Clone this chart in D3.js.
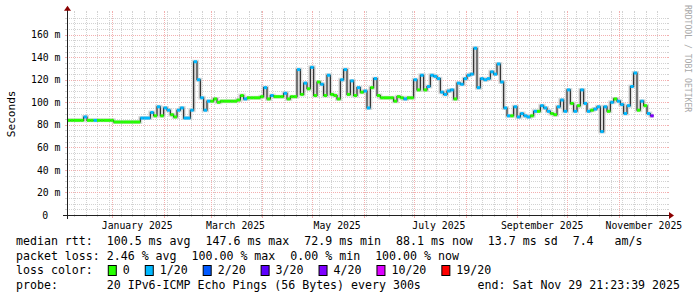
<!DOCTYPE html>
<html><head><meta charset="utf-8">
<script src="https://cdn.jsdelivr.net/npm/d3@7"></script>
<style>
html,body{margin:0;padding:0;background:#fff;}
svg{display:block;}
text{font-family:"DejaVu Sans Mono",monospace;white-space:pre;}
</style></head><body>
<svg id="chart" width="697" height="297"></svg>
<script>
// ---------- data ----------
const endTime = Date.UTC(2025, 10, 29, 21, 23, 39);
const spanDays = 360;
const stepDays = 2;
// median rtt (ms) per 2-day step, starting at endTime - 360 days
const medianMs = [
 84,84,84,84,84,87,84,84,84,84,84,84,84,84,
 82.5,82.5,82.5,82.5,82.5,82.5,82.5,82.5,
 86,86,86,91,88,96,88,95,93,89,87,93,95,86,86,93,136,120,104,93,101,101,
 103,100,101,101,101,101,101,102,106,103,104,104,104,104,105,113,103,106,105,105,105,108,103,105,105,129,
 107,117,112,131,106,118,116,106,124,107,106,103,120,129,107,119,106,113,109,
 110,95,113,121,106,104,104,104,104,101,105,104,103,104,104,
 120,111,124,111,114,124,123,121,109,107,110,111,103,117,116,121,124,125,148,113,121,120,121,127,125,134,118,95,88,88,
 96,87,90,88,87,88,92,92,97,95,92,90,89,96,102,92,111,99,92,97,111,99,92,93,94,96,74,96,92,100,103,101,98,90,97,114,126,93,101,97,90,88
];
// lost pings (out of 20) per step
const lossCount = [
 0,0,0,0,0,1,0,0,1,0,0,0,0,0,
 0,0,0,0,0,0,0,0,
 1,1,1,1,0,1,0,1,1,0,0,1,1,1,1,1,1,1,1,1,1,0,
 0,0,0,0,0,0,0,0,0,1,0,0,0,0,0,1,0,1,0,0,0,1,0,0,0,1,
 0,1,0,1,0,0,1,0,1,0,0,0,1,1,0,1,0,1,0,
 1,1,0,1,0,0,0,0,0,0,0,0,1,0,0,
 1,0,1,0,1,1,1,1,1,1,1,1,0,1,1,1,1,1,1,1,1,1,1,1,1,1,1,1,1,0,
 1,1,1,1,1,0,1,0,1,1,1,0,0,1,1,1,1,0,1,0,1,1,1,0,1,1,1,1,0,1,0,1,1,1,1,1,1,0,1,0,1,4
];
const yTicks = [0, 20, 40, 60, 80, 100, 120, 140, 160];
const yTickLabels = ["0", "20 m", "40 m", "60 m", "80 m", "100 m", "120 m", "140 m", "160 m"];
const xLabelMonths = ["2025-01-01", "2025-03-01", "2025-05-01", "2025-07-01", "2025-09-01", "2025-11-01"];
const xTickLabels = ["January 2025", "March 2025", "May 2025", "July 2025", "September 2025", "November 2025"];
const lossLabels = ["0", "1/20", "2/20", "3/20", "4/20", "10/20", "19/20"];
const lossThresholds = [0, 1, 2, 3, 4, 10, 19];
const lossColors = ["#26ff00", "#00b8ff", "#0059ff", "#5e00ff", "#7e00ff", "#dd00ff", "#ff0000"];
const statsRtt = ["median rtt:  100.5 ms avg", "147.6 ms max", "72.9 ms min", "88.1 ms now", "13.7 ms sd", "7.4   am/s"];
const statsLoss = ["packet loss: 2.46 % avg", "100.00 % max", "0.00 % min", "100.00 % now"];
const probeText = "probe:       20 IPv6-ICMP Echo Pings (56 Bytes) every 300s";
const endText = "end: Sat Nov 29 21:23:39 2025";

// ---------- chart ----------
const W = 697, H = 297, DAY = 86400000;
const svg = d3.select("#chart");
svg.append("rect").attr("width", W).attr("height", H).attr("fill", "#ffffff");

const start = new Date(endTime - spanDays * DAY), end = new Date(endTime);
const x = d3.scaleUtc().domain([start, end]).range([67, 667]);
const y = d3.scaleLinear().domain([0, 179.5]).range([215, 12.7]);
const X0 = 67, X1 = 667, Y0 = 215, Y1 = y(179.5);
const snap = v => Math.round(v) + 0.5;

const gMinor = "#d2d2d2", gMajor = "#f3b0b0";
const grid = svg.append("g").attr("shape-rendering", "crispEdges");

// horizontal minor grid
d3.range(5, 180, 5).filter(v => v % 20 !== 0).forEach(v => {
  const yy = snap(y(v));
  grid.append("line").attr("x1", X0).attr("x2", X1).attr("y1", yy).attr("y2", yy)
    .attr("stroke", gMinor).attr("stroke-dasharray", "1,1");
  grid.append("line").attr("x1", X0 - 2).attr("x2", X0).attr("y1", yy).attr("y2", yy).attr("stroke", gMinor);
  grid.append("line").attr("x1", X1).attr("x2", X1 + 2).attr("y1", yy).attr("y2", yy).attr("stroke", gMinor);
});
// vertical minor grid (weeks)
d3.utcMonday.range(start, end).forEach(t => {
  const xx = snap(x(t));
  grid.append("line").attr("x1", xx).attr("x2", xx).attr("y1", Y0).attr("y2", Y1)
    .attr("stroke", gMinor).attr("stroke-dasharray", "1,1");
  grid.append("line").attr("x1", xx).attr("x2", xx).attr("y1", Y0).attr("y2", Y0 + 2).attr("stroke", gMinor);
  grid.append("line").attr("x1", xx).attr("x2", xx).attr("y1", Y1 - 2).attr("y2", Y1).attr("stroke", gMinor);
});
// horizontal major grid
yTicks.filter(v => v > 0).forEach(v => {
  const yy = snap(y(v));
  grid.append("line").attr("x1", X0).attr("x2", X1).attr("y1", yy).attr("y2", yy)
    .attr("stroke", gMajor).attr("stroke-dasharray", "1,1");
  grid.append("line").attr("x1", X0 - 2).attr("x2", X0).attr("y1", yy).attr("y2", yy).attr("stroke", gMajor);
  grid.append("line").attr("x1", X1).attr("x2", X1 + 2).attr("y1", yy).attr("y2", yy).attr("stroke", gMajor);
});
// vertical major grid (months)
d3.utcMonth.range(start, end).forEach(t => {
  const xx = snap(x(t));
  grid.append("line").attr("x1", xx).attr("x2", xx).attr("y1", Y0).attr("y2", Y1)
    .attr("stroke", gMajor).attr("stroke-dasharray", "1,1");
  grid.append("line").attr("x1", xx).attr("x2", xx).attr("y1", Y0).attr("y2", Y0 + 3).attr("stroke", gMajor);
  grid.append("line").attr("x1", xx).attr("x2", xx).attr("y1", Y1 - 2).attr("y2", Y1).attr("stroke", gMajor);
});

// ---------- data marks ----------
const pts = medianMs.map((v, i) => ({
  t: new Date(start.getTime() + i * stepDays * DAY),
  t2: new Date(start.getTime() + (i + 1) * stepDays * DAY),
  v, loss: lossCount[i]
}));
const colorFor = c => { let k = 0; lossThresholds.forEach((th, j) => { if (c >= th) k = j; }); return lossColors[k]; };
const linePts = pts.map(p => [p.t, p.v]).concat([[pts[pts.length - 1].t2, pts[pts.length - 1].v]]);
const stepLine = d3.line().x(d => x(d[0])).y(d => y(d[1])).curve(d3.curveStepAfter);

// smoke (approximate halo)
svg.append("path").attr("d", stepLine(linePts)).attr("fill", "none")
  .attr("stroke", "#cccccc").attr("stroke-width", 4).attr("stroke-opacity", 0.7);
// median line
svg.append("path").attr("d", stepLine(linePts)).attr("fill", "none")
  .attr("stroke", "#202020").attr("stroke-width", 1.1);
// loss-coloured median segments
svg.append("g").selectAll("line").data(pts).join("line")
  .attr("x1", d => x(d.t)).attr("x2", d => x(d.t2))
  .attr("y1", d => y(d.v)).attr("y2", d => y(d.v))
  .attr("stroke", d => colorFor(d.loss)).attr("stroke-width", 3);

// ---------- axes ----------
const axisCol = "#202020", arrowCol = "#8b0000";
svg.append("line").attr("x1", X0 - 4).attr("x2", X1 + 4).attr("y1", Y0 + 0.5).attr("y2", Y0 + 0.5).attr("stroke", axisCol);
svg.append("line").attr("x1", X0 + 0.5).attr("x2", X0 + 0.5).attr("y1", Y0 + 4).attr("y2", Y1 - 4).attr("stroke", axisCol);
svg.append("path").attr("d", `M${X1 + 2},${Y0 - 3}L${X1 + 2},${Y0 + 4}L${X1 + 7},${Y0 + 0.5}Z`).attr("fill", arrowCol);
svg.append("path").attr("d", `M${X0 - 3},${Y1 - 2}L${X0 + 4},${Y1 - 2}L${X0 + 0.5},${Y1 - 7}Z`).attr("fill", arrowCol);

// y tick labels
const axisFont = 9.8;
yTicks.forEach((v, i) => {
  const lab = yTickLabels[i];
  const xr = v === 0 ? 60 - 2 * axisFont * 0.602 : 60.5;
  svg.append("text").attr("x", xr).attr("y", y(v) + 3.6).attr("text-anchor", "end")
    .attr("font-size", axisFont).attr("fill", "#000").text(lab);
});
// x tick labels (centred mid-month)
xLabelMonths.forEach((m, i) => {
  const t = new Date(Date.parse(m + "T00:00:00Z") + 15 * DAY);
  svg.append("text").attr("x", x(t)).attr("y", 228.6).attr("text-anchor", "middle")
    .attr("font-size", axisFont).attr("fill", "#000").text(xTickLabels[i]);
});
// vertical unit label
svg.append("text").attr("transform", `translate(15,${(Y0 + Y1) / 2}) rotate(-90)`)
  .attr("text-anchor", "middle").attr("font-size", 11.1).attr("fill", "#000").text("Seconds");
// watermark
svg.append("text").attr("transform", "translate(685,5) rotate(90)")
  .attr("font-size", 8.1).attr("fill", "#a8a8a8").text("RRDTOOL / TOBI OETIKER");

// ---------- legend ----------
const legFont = 11.6, glue = 15, lx = 16;
const lineY = [245, 259.5, 274, 288.5];
function addText(xx, yy, s, anchor) {
  const t = svg.append("text").attr("x", xx).attr("y", yy).attr("font-size", legFont)
    .attr("fill", "#000").attr("xml:space", "preserve").text(s);
  if (anchor) t.attr("text-anchor", anchor);
  return t.node().getComputedTextLength();
}
function textRow(items, yy) {
  let cx = lx;
  items.forEach(s => { cx += addText(cx, yy, s) + glue; });
}
textRow(statsRtt, lineY[0]);
textRow(statsLoss, lineY[1]);
{
  let cx = lx + addText(lx, lineY[2], "loss color:") + glue;
  lossLabels.forEach((lab, i) => {
    svg.append("rect").attr("x", cx + 0.5).attr("y", lineY[2] - 8.5).attr("width", 8).attr("height", 10)
      .attr("fill", lossColors[i]).attr("stroke", "#000").attr("stroke-width", 1);
    cx += 15;
    cx += addText(cx, lineY[2], lab) + glue;
  });
}
addText(lx, lineY[3], probeText);
addText(680, lineY[3], endText, "end");
</script>
</body></html>
